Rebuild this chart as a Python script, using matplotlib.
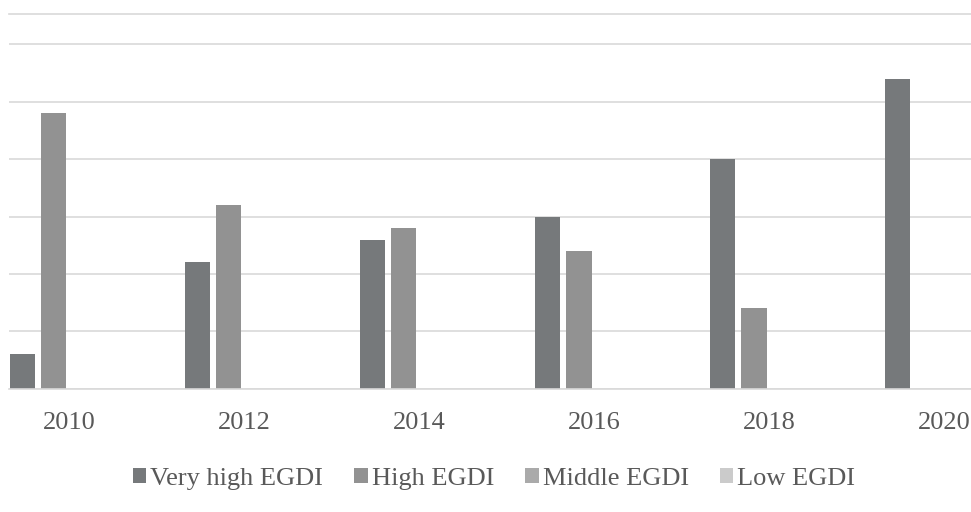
import matplotlib
matplotlib.use("Agg")
import matplotlib.pyplot as plt
import numpy as np

# EGDI groups per survey year
years = ["2010", "2012", "2014", "2016", "2018", "2020"]
series_names = ["Very high EGDI", "High EGDI", "Middle EGDI", "Low EGDI"]
very_high = [3, 11, 13, 15, 20, 27]
high = [24, 16, 14, 12, 7, 0]
middle = [0, 0, 0, 0, 0, 0]
low = [0, 0, 0, 0, 0, 0]
yticks = [0, 5, 10, 15, 20, 25, 30]

colors = ["#76797b", "#929292", "#aaaaaa", "#cbcbcb"]
grid_color = "#d9d9d9"
text_color = "#595959"

plt.rcParams["font.family"] = ["Liberation Serif", "DejaVu Serif"]

fig = plt.figure(figsize=(9.71, 5.12), dpi=100)
ax = fig.add_axes([9 / 971, 0.2408, 1 - 9 / 971, 0.9736 - 0.2408])

x = np.arange(len(years))
pitch = 0.18
width = 0.143
offsets = (np.arange(4) - 1.5) * pitch
for vals, name, col, off in zip([very_high, high, middle, low],
                                series_names, colors, offsets):
    ax.bar(x + off, vals, width=width, color=col, label=name,
           linewidth=0, zorder=3)

ax.set_xlim(-0.347, 5.150)
ax.set_ylim(0, 32.7)
ax.set_yticks(yticks)
ax.yaxis.grid(True, color=grid_color, linewidth=1.2, zorder=0)
ax.tick_params(axis="y", left=False, labelleft=False)
ax.set_xticks(x)
ax.set_xticklabels(years)
ax.tick_params(axis="x", length=0, pad=17, labelsize=19, labelcolor=text_color)

for side in ["left", "right"]:
    ax.spines[side].set_visible(False)
for side in ["top", "bottom"]:
    ax.spines[side].set_color(grid_color)
    ax.spines[side].set_linewidth(1.2)
ax.spines["bottom"].set_zorder(4)

leg = ax.legend(loc="center", bbox_to_anchor=(494 / 971, 33 / 512),
                bbox_transform=fig.transFigure, ncol=4, frameon=False,
                fontsize=19, handlelength=0.52, handleheight=0.52,
                handletextpad=0.15, columnspacing=1.17, labelcolor=text_color)

fig.savefig("out.png", dpi=100, facecolor="white")
